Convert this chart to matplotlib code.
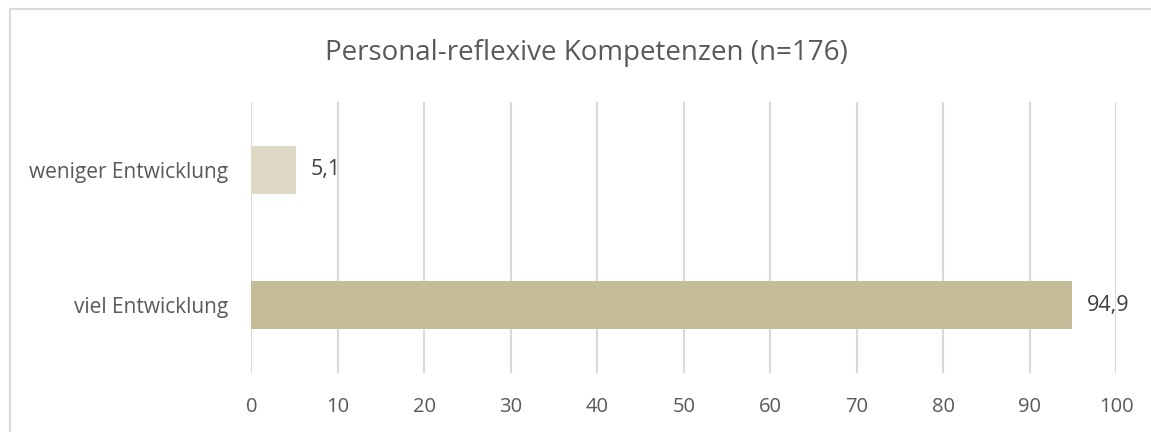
import numpy as np
import matplotlib.pyplot as plt
from matplotlib.patches import Rectangle

# Daten
kategorien = ['viel Entwicklung', 'weniger Entwicklung']
werte = [94.9, 5.1]
farben = ['#C4BD97', '#DDD9C4']
xticks = list(range(0, 101, 10))
titel = 'Personal-reflexive Kompetenzen (n=176)'

plt.rcParams['font.family'] = ['Open Sans', 'DejaVu Sans']
grau = '#595959'

fig = plt.figure(figsize=(11.51, 4.32), dpi=100)
ax = fig.add_axes([0.2185, 0.1366, 0.7511, 0.6273])

# Rahmen des Diagramms
fig.patches.append(Rectangle((9.5 / 1151, -0.1), 1.2, 1 + 0.1 - 9.5 / 432,
                             transform=fig.transFigure, fill=False,
                             edgecolor='#D9D9D9', linewidth=1.5))

y = np.arange(len(kategorien))
ax.barh(y, werte, height=0.354, color=farben, zorder=3)
for yi, w in zip(y, werte):
    ax.text(w + 1.75, yi, f'{w:.1f}'.replace('.', ','), va='center', ha='left',
            fontsize=15.5, color='#404040')

ax.set_xlim(0, 100)
ax.set_ylim(-0.5, 1.5)
ax.set_xticks(xticks)
ax.set_yticks(y)
ax.set_yticklabels(kategorien)
ax.tick_params(axis='x', length=0, labelsize=14.5, labelcolor=grau, pad=17)
ax.tick_params(axis='y', length=0, labelsize=15, labelcolor=grau, pad=17)
ax.grid(axis='x', color='#D9D9D9', linewidth=1.5, zorder=0)
for s in ax.spines.values():
    s.set_visible(False)

fig.text(586 / 1151, 1 - 53 / 432, titel, ha='center', va='center',
         fontsize=20, color=grau)

fig.savefig('out.png', dpi=100)
